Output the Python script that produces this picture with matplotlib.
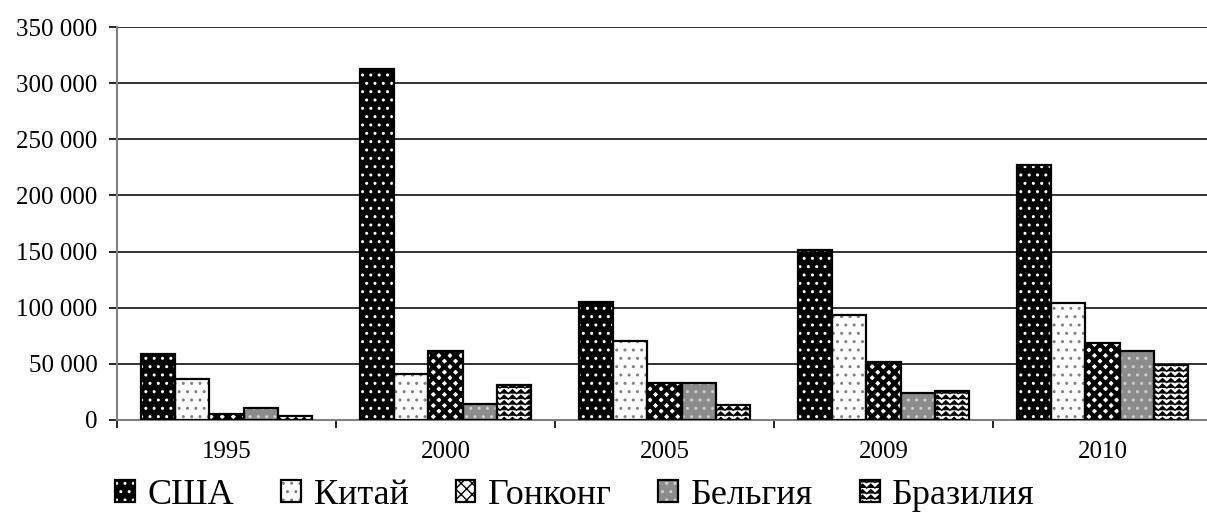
import warnings
import numpy as np
import matplotlib
matplotlib.use("Agg")
import matplotlib.pyplot as plt
import matplotlib.hatch as mhatch
from matplotlib.path import Path
from matplotlib.ticker import FuncFormatter, FixedLocator

warnings.filterwarnings("ignore")

years = ["1995", "2000", "2005", "2009", "2010"]
series_names = ["США", "Китай", "Гонконг", "Бельгия", "Бразилия"]
usa = [58600, 312900, 104800, 151600, 226700]
china = [36700, 40900, 70000, 93500, 104200]
hongkong = [5600, 61800, 33000, 52000, 68700]
belgium = [10600, 14200, 33000, 24300, 61300]
brazil = [3500, 31600, 13500, 25800, 49100]
values = [usa, china, hongkong, belgium, brazil]


class ZigzagHatch(mhatch.HatchPatternBase):
    def __init__(self, hatch, density):
        self.num_lines = int(hatch.count('z') * density)
        self.teeth = 12
        self.num_vertices = self.num_lines * (2 * self.teeth + 1)

    def set_vertices_and_codes(self, vertices, codes):
        n = 2 * self.teeth + 1
        xs = np.linspace(0, 1, n)
        amp = 0.35 / max(self.num_lines, 1)
        offs = np.where(np.arange(n) % 2 == 0, -amp, amp)
        for i in range(self.num_lines):
            y0 = (i + 0.5) / self.num_lines
            sl = slice(i * n, (i + 1) * n)
            vertices[sl, 0] = xs
            vertices[sl, 1] = y0 + offs
            codes[sl] = Path.LINETO
            codes[i * n] = Path.MOVETO


mhatch._hatch_types.append(ZigzagHatch)

styles = [
    dict(face="#000000", hcol="#ffffff", hatch="..", hlw=1.0),
    dict(face="#ffffff", hcol="#808080", hatch="..", hlw=1.0),
    dict(face="#ffffff", hcol="#000000", hatch="xxx", hlw=3.0),
    dict(face="#8c8c8c", hcol="#cfcfcf", hatch="..", hlw=1.0),
    dict(face="#ffffff", hcol="#000000", hatch="zzz", hlw=1.0),
]

plt.rcParams['font.family'] = ['Liberation Serif', 'DejaVu Serif']

W, H = 1207, 516
fig = plt.figure(figsize=(W / 100, H / 100), dpi=100)
ax = fig.add_axes([117 / W, 96 / H, 1095 / W, 393 / H])

x = np.arange(len(years))
bw = 0.156
handles = []
for k, (vals, st) in enumerate(zip(values, styles)):
    pos = x + (k - 2) * bw
    b1 = ax.bar(pos, vals, bw, color=st["face"], edgecolor=st["hcol"],
                hatch=st["hatch"], linewidth=0, zorder=3)
    for p in b1:
        try:
            p.set_hatch_linewidth(st["hlw"])
        except AttributeError:
            pass
    b2 = ax.bar(pos, vals, bw, facecolor="none", edgecolor="black",
                linewidth=1.6, zorder=4)
    handles.append((b1[0], b2[0]))

ax.set_xlim(-0.5, 4.5)
ax.set_ylim(0, 350000)
ax.set_yticks(np.arange(0, 350001, 50000))
ax.yaxis.set_major_formatter(FuncFormatter(lambda v, p: f"{int(v):,}".replace(",", " ")))
ax.grid(axis="y", color="#333333", linewidth=1.4, zorder=1)
ax.set_axisbelow(True)

ax.xaxis.set_major_locator(FixedLocator(np.arange(-0.5, 5.0, 1.0)))
ax.xaxis.set_major_formatter(FuncFormatter(lambda v, p: ""))
ax.xaxis.set_minor_locator(FixedLocator(x))
ax.set_xticklabels(years, minor=True)
ax.tick_params(axis="x", which="major", direction="out", length=6, width=1.2, color="black")
ax.tick_params(axis="x", which="minor", length=0, pad=15, labelsize=18)
ax.tick_params(axis="y", direction="out", length=6, width=1.2, color="black", pad=8, labelsize=18)

for s in ["top", "right"]:
    ax.spines[s].set_visible(False)
ax.spines["left"].set_color("#808080")
ax.spines["left"].set_linewidth(1.5)
ax.spines["bottom"].set_color("#808080")
ax.spines["bottom"].set_linewidth(1.5)

leg = fig.legend(handles, series_names, loc="center", bbox_to_anchor=(575 / W, 21 / H),
                 ncol=5, frameon=False, fontsize=26, handlelength=0.55, handleheight=0.55,
                 handletextpad=0.35, columnspacing=1.3, borderaxespad=0)

fig.savefig("out.png", dpi=100)
